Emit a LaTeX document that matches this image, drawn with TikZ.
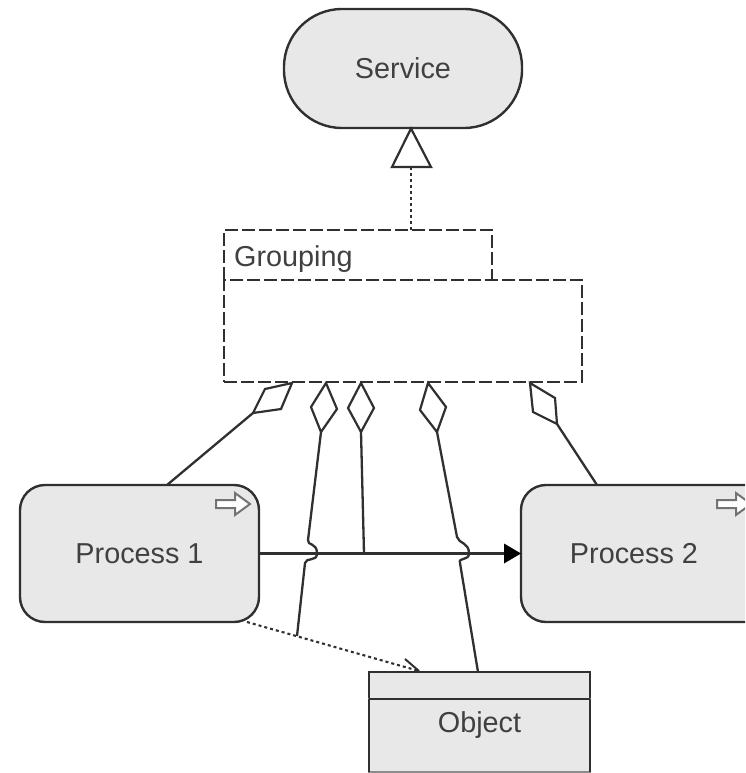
\documentclass[tikz,border=0pt]{standalone}
\usepackage{fontspec}
\setmainfont{Liberation Sans}
\definecolor{ink}{HTML}{303030}
\definecolor{boxfill}{HTML}{E8E8E8}
\definecolor{textink}{HTML}{404040}
\tikzset{
  base/.style={line width=2.4pt,draw=ink,inner sep=0pt,outer sep=0pt},
  service/.style={base,fill=boxfill,rounded corners=58pt,minimum width=238pt,minimum height=119pt,text=textink,font=\fontsize{28.8}{32}\selectfont},
  process/.style={base,fill=boxfill,rounded corners=25pt,minimum height=137pt,text=textink,font=\fontsize{28.8}{32}\selectfont},
  objbox/.style={base,fill=boxfill,minimum width=221pt},
  dashline/.style={line width=2.4pt,draw=ink,dash pattern=on 13pt off 4pt},
  dashbox/.style={dashline,inner sep=0pt,outer sep=0pt},
  plain/.style={text=textink,font=\fontsize{28.8}{32}\selectfont,inner sep=0pt},
  conn/.style={line width=2.3pt,draw=ink},
  dot/.style={line width=2.1pt,draw=ink,dash pattern=on 3pt off 3pt},
  diam/.style={line width=2.2pt,draw=ink,fill=white,line join=miter},
  icon/.style={line width=2pt,draw=black!55,fill=white,line join=miter},
}
\begin{document}
\begin{tikzpicture}[x=1pt,y=-1pt]
\useasboundingbox (0,0) rectangle (745,773);
\clip (0,0) rectangle (745,773);

% shapes
\node[service] (service) at (403,68.5) {Service};
\node[process,minimum width=239pt] (p1) at (139.5,553.5) {Process 1};
\node[process,minimum width=290pt] (p2) at (666,553.5) {};
\node[plain] (p2text) at (634,553.5) {Process 2};
\node[objbox,minimum height=27pt] (objhead) at (479.5,685.5) {};
\node[objbox,minimum height=73pt,draw=black!45] (objbody) at (479.5,735.5) {};
\draw[base,line width=2.4pt] (objbody.north west) -- (objbody.north east);
\draw[base] (objbody.north west) -- (objbody.south west);
\draw[base] (objbody.north east) -- (objbody.south east);
\node[plain] (objtext) at (479.5,725) {Object};
\node[dashbox,minimum width=358pt,minimum height=102pt] (group) at (403,331) {};
\node[inner sep=0pt,outer sep=0pt,minimum width=268pt,minimum height=50pt] (tab) at (358,255) {};
\draw[dashline] (tab.south west) -- (tab.north west) -- (tab.north east) -- (tab.south east);
\node[plain,anchor=west] (gtext) at (234,259) {Grouping};

% realisation
\coordinate (triA) at (411,128.5);
\coordinate (triB) at (392,167);
\coordinate (triC) at (431,167);
\coordinate (triM) at (411,167);
\coordinate (tabT) at (411,230);
\draw[dot] (triM) -- (tabT);
\draw[diam] (triA) -- (triB) -- (triC) -- cycle;

% diamonds
\coordinate (d1a) at (292,383); \coordinate (d1b) at (265,389); \coordinate (d1c) at (253,413); \coordinate (d1d) at (281,409);
\coordinate (d2a) at (326,383); \coordinate (d2b) at (311,407); \coordinate (d2c) at (321,432); \coordinate (d2d) at (337,409);
\coordinate (d3a) at (361,383); \coordinate (d3b) at (348,408); \coordinate (d3c) at (361,432); \coordinate (d3d) at (374,408);
\coordinate (d4a) at (428,383); \coordinate (d4b) at (420,410); \coordinate (d4c) at (437,432); \coordinate (d4d) at (446,407);
\coordinate (d5a) at (530,383); \coordinate (d5b) at (533,412); \coordinate (d5c) at (557,424); \coordinate (d5d) at (555,398);
\foreach \d in {d1,d2,d3,d4,d5}{
  \draw[diam] (\d a) -- (\d b) -- (\d c) -- (\d d) -- cycle;
}

% aggregation connectors
\coordinate (p1top) at (167,485);
\coordinate (p2top) at (597,485);
\coordinate (flowjoin) at (364,553.5);
\coordinate (objtop) at (478,672);
\coordinate (dotjoin) at (297,636);
\coordinate (j2a) at (308,540); \coordinate (j2m) at (317,553.5); \coordinate (j2b) at (305,563);
\coordinate (j4a) at (457,537); \coordinate (j4m) at (469,553.5); \coordinate (j4b) at (460,563);
\draw[conn] (d1c) -- (p1top);
\draw[conn] (d5c) -- (p2top);
\draw[conn] (d3c) -- (flowjoin);
\draw[conn] (d2c) -- (j2a)
  .. controls (307,546) and (317,542) .. (j2m)
  .. controls (317,562) and (306,557) .. (j2b) -- (dotjoin);
\draw[conn] (d4c) -- (j4a)
  .. controls (459,544) and (469,542) .. (j4m)
  .. controls (469,561) and (458,557) .. (j4b) -- (objtop);

% triggering flow
\coordinate (p1r) at (p1.east);
\coordinate (tipF) at (521,553.5);
\coordinate (baseF) at (505,553.5);
\coordinate (baseFa) at (504,543.5);
\coordinate (baseFb) at (504,563.5);
\draw[conn] (p1r) -- (baseF);
\fill[black] (tipF) -- (baseFa) -- (baseFb) -- cycle;

% access
\coordinate (p1b) at (247,622);
\coordinate (objin) at (419,671);
\coordinate (barb) at (405,659);
\draw[dot] (p1b) -- (objin);
\draw[line width=2pt,draw=ink] (barb) -- (objin);

% process icons
\foreach \ox in {0,501}{
  \begin{scope}[xshift=\ox pt]
    \draw[icon] (216,500) -- (235,500) -- (235,493) -- (250,504) -- (235,515) -- (235,508) -- (216,508) -- cycle;
  \end{scope}
}
\end{tikzpicture}
\end{document}
